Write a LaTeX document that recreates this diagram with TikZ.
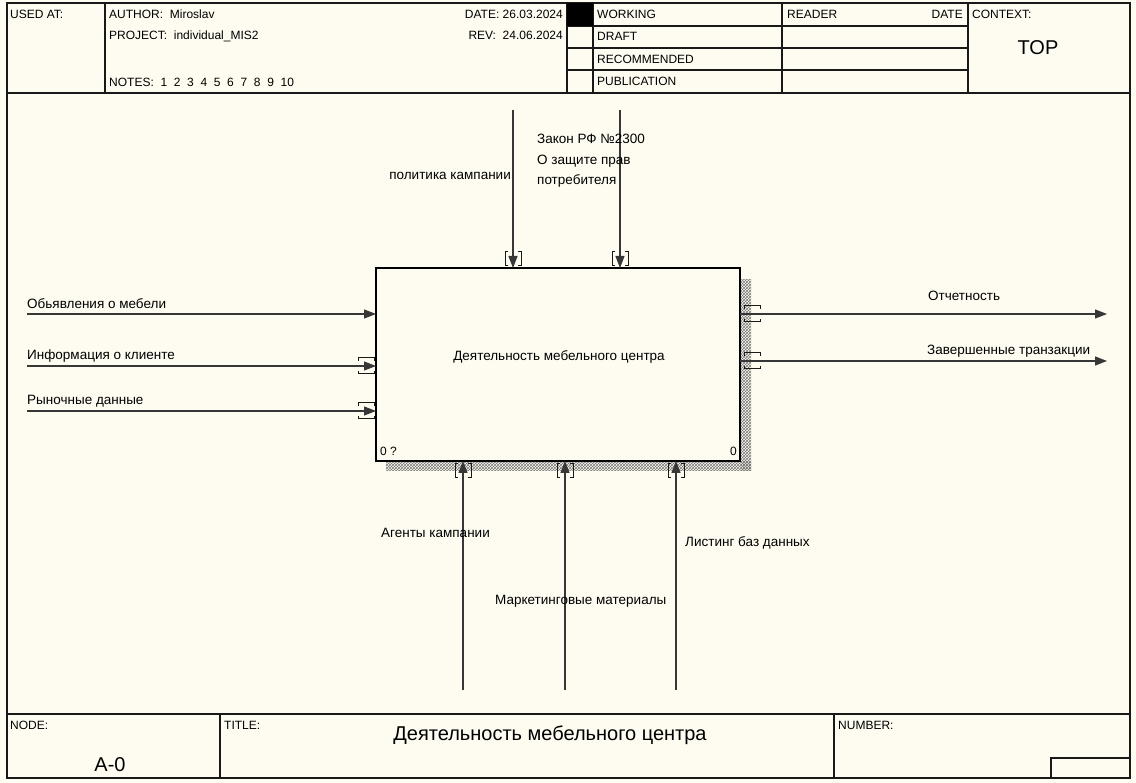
\documentclass[tikz,border=0pt]{standalone}
\usepackage{fontspec}
\setmainfont{Liberation Sans}
\usetikzlibrary{arrows.meta,patterns}
\definecolor{paper}{RGB}{254,251,240}
\definecolor{ink}{RGB}{25,25,25}
\definecolor{wire}{RGB}{55,55,55}
\definecolor{hatch}{RGB}{120,120,120}
\begin{document}
\begin{tikzpicture}[x=1pt,y=-1pt,
  frame/.style={draw=ink,line width=1.1pt},
  hdr/.style={font=\fontsize{12}{14}\selectfont,inner sep=0pt},
  lbl/.style={font=\fontsize{13.5}{20.5}\selectfont,inner sep=0pt},
  big/.style={font=\fontsize{20}{24}\selectfont,inner sep=0pt},
  flow/.style={draw=wire,line width=1.2pt,-{Triangle[length=12pt,width=9pt]}},
  brk/.style={draw=ink,line width=1pt},
  activity/.style={draw=black,line width=2.6pt,fill=paper,minimum width=364pt,
    minimum height=193pt,outer sep=0pt,inner sep=0pt},
  tunv/.pic={\draw[brk] (-5,-7) -- (-8,-7) -- (-8,7) -- (-5,7);
             \draw[brk] (5,-7) -- (8,-7) -- (8,7) -- (5,7);},
  tunh/.pic={\draw[brk] (-8,-5) -- (-8,-8) -- (8,-8) -- (8,-5);
             \draw[brk] (-8,5) -- (-8,8) -- (8,8) -- (8,5);}
]
% sheet
\fill[paper] (0,0) rectangle (1136,783);
\useasboundingbox (0,0) rectangle (1136,783);
\draw[frame] (7,3) rectangle (1130,778);

% header block
\draw[frame] (7,93) -- (1130,93);
\draw[frame] (105,3) -- (105,93);
\draw[frame] (567,3) -- (567,93);
\draw[frame] (593,3) -- (593,93);
\draw[frame] (782,3) -- (782,93);
\draw[frame] (968,3) -- (968,93);
\foreach \yy in {26,48,70} \draw[frame] (567,\yy) -- (968,\yy);
\fill[black] (567,3) rectangle (593,26);

\node[hdr,anchor=base west] (usedat) at (10,19) {USED AT:};
\node[hdr,anchor=base west] (author) at (109,19) {AUTHOR:\ \ Miroslav};
\node[hdr,anchor=base west] (project) at (109,40) {PROJECT:\ \ individual\_MIS2};
\node[hdr,anchor=base west] (notes) at (109,87) {NOTES:\ \ 1\ \ 2\ \ 3\ \ 4\ \ 5\ \ 6\ \ 7\ \ 8\ \ 9\ \ 10};
\node[hdr,anchor=base east] (date) at (563,19) {DATE: 26.03.2024};
\node[hdr,anchor=base east] (rev) at (563,40) {REV:\ \ 24.06.2024};
\node[hdr,anchor=base west] (working) at (597,19) {WORKING};
\node[hdr,anchor=base west] (draft) at (597,41) {DRAFT};
\node[hdr,anchor=base west] (recommended) at (597,64) {RECOMMENDED};
\node[hdr,anchor=base west] (publication) at (597,86) {PUBLICATION};
\node[hdr,anchor=base west] (reader) at (787,19) {READER};
\node[hdr,anchor=base east] (rdate) at (963,19) {DATE};
\node[hdr,anchor=base west] (context) at (972,19) {CONTEXT:};
\node[big,anchor=base] (top) at (1038,55) {TOP};

% footer block
\draw[frame] (7,714) -- (1130,714);
\draw[frame] (220,714) -- (220,778);
\draw[frame] (834,714) -- (834,778);
\draw[frame] (1051,778) -- (1051,758) -- (1130,758);
\node[hdr,anchor=base west] (nodelbl) at (10,729) {NODE:};
\node[hdr,anchor=base west] (titlelbl) at (224,729) {TITLE:};
\node[hdr,anchor=base west] (numberlbl) at (838,729) {NUMBER:};
\node[big,anchor=base] (nodeid) at (110,771) {A-0};
\node[big,anchor=base] (title) at (550,740) {Деятельность мебельного центра};

% activity box with hatched shadow
\fill[pattern=crosshatch,pattern color=hatch] (741,280) rectangle (751,471);
\fill[pattern=crosshatch,pattern color=hatch] (386,462) rectangle (751,471);
\node[activity] (act) at (558,364.5) {};
\node[lbl,anchor=base] (actname) at (559,361) {Деятельность мебельного центра};
\node[hdr,anchor=base west] (actnum) at (380,456) {0 ?};
\node[hdr,anchor=base east] (actcost) at (737,456) {0};

% inputs
\coordinate (i1) at (27,314);
\coordinate (i2) at (27,366);
\coordinate (i3) at (27,411);
\draw[flow] (i1) -- (i1 -| act.west);
\draw[flow] (i2) -- (i2 -| act.west);
\draw[flow] (i3) -- (i3 -| act.west);
\pic at (366,366) {tunh};
\pic at (366,411) {tunh};
\node[lbl,anchor=base west] at (27,309) {Обьявления о мебели};
\node[lbl,anchor=base west] at (27,360) {Информация о клиенте};
\node[lbl,anchor=base west] at (27,405) {Рыночные данные};

% outputs
\coordinate (o1) at (1107,314);
\coordinate (o2) at (1107,361);
\draw[flow] (o1 -| act.east) -- (o1);
\draw[flow] (o2 -| act.east) -- (o2);
\pic at (752,314) {tunh};
\pic at (752,361) {tunh};
\node[lbl,anchor=base west] at (928,301) {Отчетность};
\node[lbl,anchor=base west] at (927,355) {Завершенные транзакции};

% controls
\coordinate (c1) at (513,110);
\coordinate (c2) at (620,110);
\draw[flow] (c1) -- (c1 |- act.north);
\draw[flow] (c2) -- (c2 |- act.north);
\pic at (513,259) {tunv};
\pic at (620,259) {tunv};
\node[lbl,anchor=base east] at (511,180) {политика кампании};
\node[lbl,anchor=base west] at (537,144) {Закон РФ №2300};
\node[lbl,anchor=base west] at (537,164.5) {О защите прав};
\node[lbl,anchor=base west] at (537,185) {потребителя};

% mechanisms
\coordinate (m1) at (463,690);
\coordinate (m2) at (565,690);
\coordinate (m3) at (676,690);
\draw[flow] (m1) -- (m1 |- act.south);
\draw[flow] (m2) -- (m2 |- act.south);
\draw[flow] (m3) -- (m3 |- act.south);
\pic at (463,471) {tunv};
\pic at (565,471) {tunv};
\pic at (676,471) {tunv};
\node[lbl,anchor=base west] at (381,537) {Агенты кампании};
\node[lbl,anchor=base west] at (495,604) {Маркетинговые материалы};
\node[lbl,anchor=base west] at (685,547) {Листинг баз данных};
\end{tikzpicture}
\end{document}
